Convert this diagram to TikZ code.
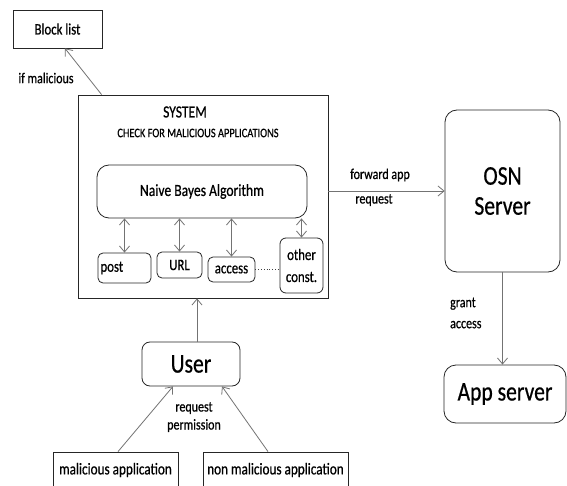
\documentclass[tikz,border=0pt]{standalone}
\usepackage{fontspec}
\setmainfont{Carlito}[FakeStretch=0.8,FakeBold=0.6]
\usetikzlibrary{arrows.meta,calc}
\begin{document}
\begin{tikzpicture}[x=1pt,y=-1pt,
  box/.style={draw=black!85, line width=0.8pt, inner sep=0pt, align=center},
  rbox/.style={box, rounded corners=#1},
  arr/.style={draw=black!55, line width=0.8pt, -{Straight Barb[length=6pt,width=10pt]}},
  darr/.style={draw=black!55, line width=0.8pt, {Straight Barb[length=6pt,width=10pt]}-{Straight Barb[length=6pt,width=10pt]}},
  lbl/.style={inner sep=0pt, align=center}]
\fill[white] (0,0) rectangle (567,486);
\useasboundingbox (0,0) rectangle (567,486);
\clip (0,0) rectangle (567,486);

% boxes
\node[box, minimum width=89pt, minimum height=38pt, font=\fontsize{16}{18}\selectfont] (block) at (57.5,29) {Block list};
\node[box, minimum width=250pt, minimum height=203pt] (sys) at (203,196.5) {};
\node[lbl, font=\fontsize{17}{19}\selectfont] (systxt) at (185,112) {SYSTEM};
\node[lbl, font=\fontsize{13}{15}\selectfont] (chk) at (198,133) {CHECK FOR MALICIOUS APPLICATIONS};
\node[rbox=12pt, minimum width=210pt, minimum height=53pt, font=\fontsize{17}{19}\selectfont] (nb) at (202,191.5) {Naive Bayes Algorithm};
\node[rbox=5pt, minimum width=53pt, minimum height=30pt, text width=48pt, align=left, font=\fontsize{16}{18}\selectfont] (post) at (124.5,268) {post};
\node[rbox=5pt, minimum width=45pt, minimum height=26pt, font=\fontsize{16}{18}\selectfont] (url) at (179.5,265) {URL};
\node[rbox=5pt, minimum width=47pt, minimum height=25pt, font=\fontsize{16}{18}\selectfont] (acc) at (231.5,269.5) {access};
\node[rbox=6pt, minimum width=43pt, minimum height=55pt, font=\fontsize{16}{22}\selectfont] (oth) at (301.5,265.5) {other\\const.};

\node[rbox=12pt, minimum width=115pt, minimum height=162pt, font=\fontsize{27}{30}\selectfont] (osn) at (502.5,191) {OSN\\Server};
\node[rbox=12pt, minimum width=122pt, minimum height=58pt, font=\fontsize{27}{30}\selectfont] (app) at (505,394) {App server};
\node[rbox=8pt, minimum width=98pt, minimum height=44pt, font=\fontsize{27}{30}\selectfont] (user) at (191,364) {User};
\node[box, minimum width=125pt, minimum height=36pt, font=\fontsize{16.5}{18}\selectfont] (mal) at (115.5,470) {malicious application};
\node[box, minimum width=145pt, minimum height=36pt, font=\fontsize{16.5}{18}\selectfont] (nmal) at (275.5,470) {non malicious application};

% connectors
\draw[arr] ([xshift=24pt]sys.north west) -- ([xshift=7.5pt]block.south);
\node[lbl, font=\fontsize{15}{17}\selectfont] (ifm) at (46,78) {if malicious};

\foreach \b in {post,url,acc,oth}
  \draw[darr] (\b.north |- nb.south) -- (\b.north);
\draw[draw=black!75, line width=0.8pt, dotted] (acc.east) -- (oth.west |- acc.east);

\draw[arr] (sys.east |- osn.west) -- (osn.west);
\node[lbl, font=\fontsize{15}{17}\selectfont] (fwd) at (380,175) {forward app};
\node[lbl, font=\fontsize{15}{17}\selectfont] (req) at (374,200) {request};

\draw[arr] (osn.south) -- (osn.south |- app.north);
\node[lbl, align=left, anchor=west, font=\fontsize{15}{21}\selectfont] (grant) at (450,313) {grant\\access};

\draw[arr] ([xshift=6pt]user.north) -- ([xshift=6pt]user.north |- sys.south);
\draw[arr] ([xshift=2.5pt]mal.north) -- ([xshift=-18pt]user.south);
\draw[arr] ([xshift=-7.5pt]nmal.north) -- ([xshift=31pt]user.south);
\node[lbl, font=\fontsize{15}{18}\selectfont] (rp) at (194,417) {request\\permission};
\end{tikzpicture}
\end{document}
